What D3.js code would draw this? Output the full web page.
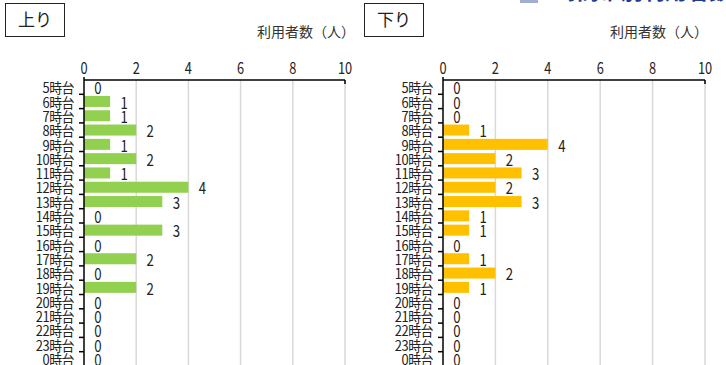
<!DOCTYPE html>
<html><head><meta charset="utf-8">
<script src="https://cdn.jsdelivr.net/npm/d3@7"></script>
<style>body{margin:0;background:#fff}svg{display:block}</style>
</head><body>
<script>
const categories = ["5時台","6時台","7時台","8時台","9時台","10時台","11時台","12時台","13時台","14時台","15時台","16時台","17時台","18時台","19時台","20時台","21時台","22時台","23時台","0時台"];
const upValues   = [0,1,1,2,1,2,1,4,3,0,3,0,2,0,2,0,0,0,0,0];
const downValues = [0,0,0,1,4,2,3,2,3,1,1,0,1,2,1,0,0,0,0,0];
const xTicks = [0,2,4,6,8,10];
const panelTitles = ["上り","下り"];
const axisTitle = "利用者数（人）";
const pageTitle = "時間帯別利用者数";

const W=726,H=365;
const svg=d3.select("body").append("svg").attr("width",W).attr("height",H);
svg.append("rect").attr("width",W).attr("height",H).attr("fill","#fff");
const FONT="'Noto Sans CJK JP','Noto Sans',sans-serif";

// cut-off page title at the top
svg.append("rect").attr("x",520).attr("y",-16).attr("width",18).attr("height",19).attr("fill","#a3acd3");
svg.append("text").attr("x",555).attr("y",-1.5).attr("font-family",FONT).attr("font-weight","bold")
  .attr("font-size",22).attr("fill","#1f3a93").text(pageTitle);

const panels=[
  {values:upValues,color:"#92d050",x0:84,x1:345,boxX:5,boxW:59,title:panelTitles[0],axisTitleX:355},
  {values:downValues,color:"#ffc000",x0:443,x1:705,boxX:364,boxW:59,title:panelTitles[1],axisTitleX:708}
];

function narrowText(g,x,y,txt,size,anchor){
  return g.append("text").attr("transform",`translate(${x},${y}) scale(0.8,1)`)
    .attr("font-family",FONT).attr("font-size",size).attr("text-anchor",anchor||"middle")
    .attr("dominant-baseline","central").attr("fill","#222").text(txt);
}

panels.forEach(p=>{
  const g=svg.append("g");
  const x=d3.scaleLinear().domain([0,10]).range([p.x0,p.x1]);
  const y=d3.scaleBand().domain(categories).range([80,366]).paddingInner(0.23).paddingOuter(0.115);
  const step=y.step();

  // title box
  g.append("rect").attr("x",p.boxX+0.5).attr("y",3.5).attr("width",p.boxW).attr("height",33)
    .attr("fill","#fff").attr("stroke","#222").attr("stroke-width",1);
  g.append("text").attr("x",p.boxX+0.5+p.boxW/2).attr("y",26).attr("text-anchor","middle")
    .attr("font-family",FONT).attr("font-size",17).attr("fill","#222").text(p.title);
  g.append("text").attr("x",p.axisTitleX).attr("y",37).attr("text-anchor","end")
    .attr("font-family",FONT).attr("font-size",14).attr("fill","#333").text(axisTitle);

  // gridlines
  g.selectAll("line.grid").data(xTicks.filter(t=>t>0)).join("line")
    .attr("x1",d=>x(d)).attr("x2",d=>x(d)).attr("y1",80).attr("y2",H)
    .attr("stroke","#d9d9d9").attr("stroke-width",1.5);

  // bars
  g.selectAll("rect.bar").data(categories).join("rect")
    .attr("x",x(0)).attr("y",d=>y(d)).attr("height",y.bandwidth())
    .attr("width",(d,i)=>x(p.values[i])-x(0)).attr("fill",p.color);

  // top axis
  g.append("line").attr("x1",x(0)).attr("x2",x(10)).attr("y1",80).attr("y2",80).attr("stroke","#000").attr("stroke-width",1.5);
  g.append("line").attr("x1",x(10)).attr("x2",x(10)).attr("y1",80).attr("y2",84).attr("stroke","#000").attr("stroke-width",1.5);
  xTicks.forEach(t=>narrowText(g,x(t),67,String(t),16));

  // left axis
  g.append("line").attr("x1",x(0)).attr("x2",x(0)).attr("y1",77).attr("y2",H).attr("stroke","#000").attr("stroke-width",1.5);
  categories.forEach((c,i)=>{
    const yb=y(c)-y.paddingOuter()*step+step; // band boundary
    g.append("line").attr("x1",x(0)-5).attr("x2",x(0)).attr("y1",yb).attr("y2",yb).attr("stroke","#000").attr("stroke-width",1.5);
    g.append("text").attr("transform",`translate(${x(0)-10},${y(c)+y.bandwidth()/2}) scale(0.92,1)`).attr("text-anchor","end")
      .attr("dominant-baseline","central").attr("font-family",FONT).attr("font-size",14)
      .attr("letter-spacing",-0.5).attr("fill","#222").text(c);
    narrowText(g,x(p.values[i])+14,y(c)+y.bandwidth()/2,String(p.values[i]),16.5);
  });
});
</script>
</body></html>
